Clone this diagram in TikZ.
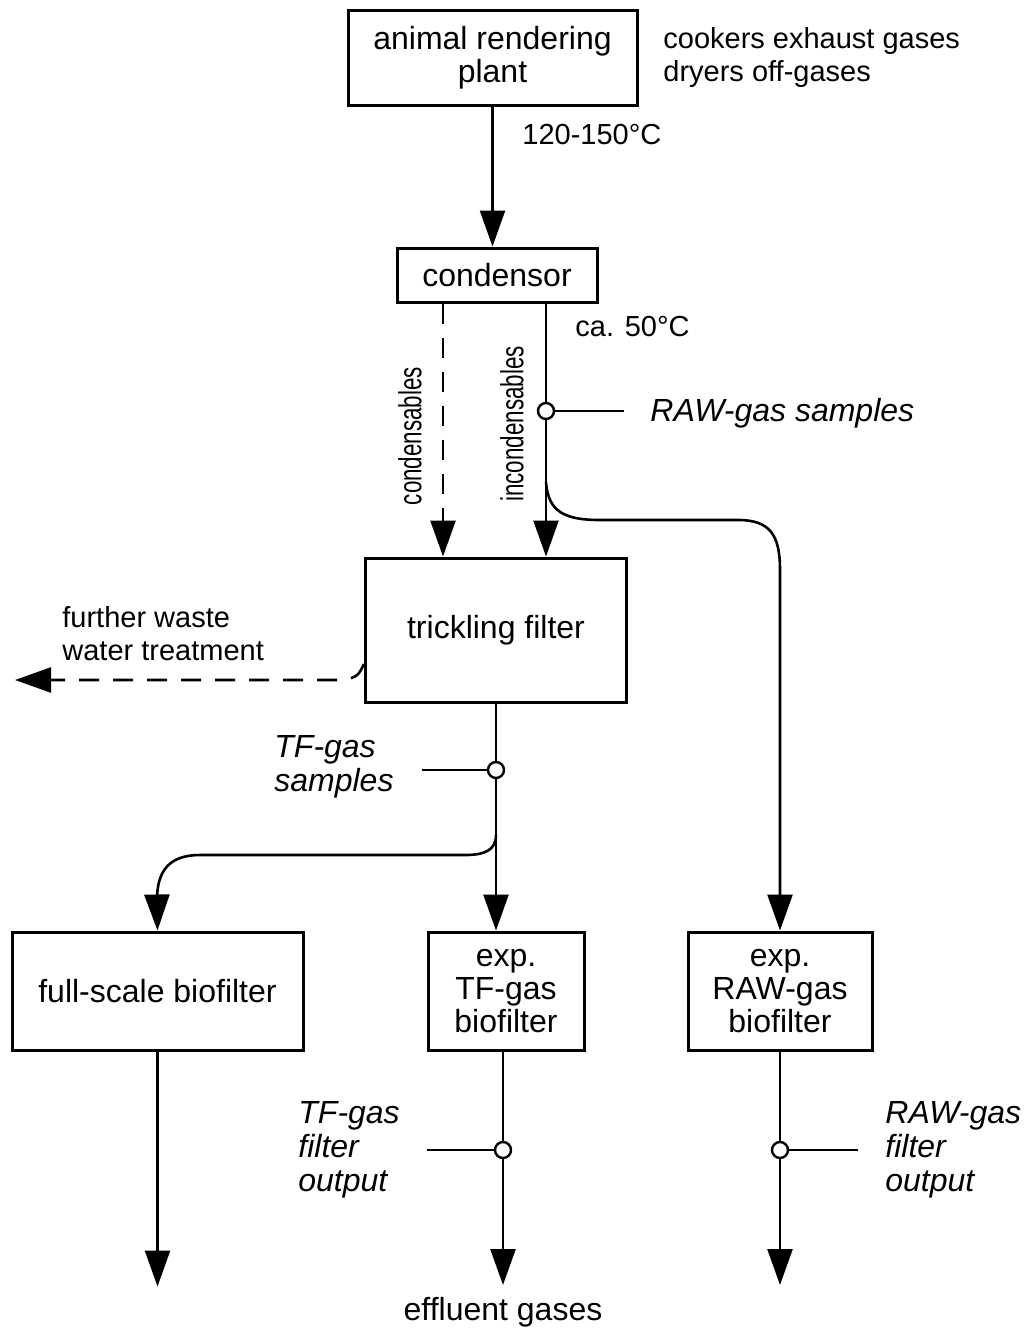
\documentclass[tikz,border=0pt]{standalone}
\usepackage{fontspec}
\setmainfont{Liberation Sans}
\newfontfamily\narrowfont[FakeStretch=0.7]{Liberation Sans}
\usetikzlibrary{arrows.meta, positioning}
\tikzset{
  box/.style={draw, line width=1.5pt, align=center, inner sep=2pt,
              font=\fontsize{16}{16.5}\selectfont},
  flow/.style={-{Triangle[length=18pt, width=12.5pt]}, line width=1.3pt},
  dflow/.style={flow, dash pattern=on 10pt off 7pt},
  tap/.style={draw, circle, line width=1.2pt, fill=white, inner sep=0pt, minimum size=8pt},
  lbl/.style={align=left, inner sep=0pt, font=\fontsize{14.5}{16.5}\selectfont},
  vlbl/.style={inner sep=0pt, rotate=90, font=\narrowfont\fontsize{16}{17}\selectfont},
  smp/.style={lbl, font=\fontsize{16}{17}\selectfont\itshape},
}

\begin{document}
\begin{tikzpicture}[x=0.5pt, y=-0.5pt]
\useasboundingbox (0,0) rectangle (1024,1328);

% process boxes
\node[box, minimum width=144.5pt, minimum height=47.5pt] (plant) at (492.5,57.5) {animal rendering\\plant};
\node[box, minimum width=100pt, minimum height=27pt] (cond) at (497,275) {condensor};
\node[box, minimum width=130.5pt, minimum height=72pt] (trick) at (496,630) {trickling filter};
\node[box, minimum width=145.5pt, minimum height=59pt] (fsbf) at (157.5,991) {full-scale biofilter};
\node[box, minimum width=78pt, minimum height=59pt] (tfbf) at (506,991) {exp.\\TF-gas\\biofilter};
\node[box, minimum width=92pt, minimum height=59pt] (rawbf) at (780,991) {exp.\\RAW-gas\\biofilter};

% labels
\node[lbl, anchor=west] (gases) at (663,57) {cookers exhaust gases\\dryers off-gases};
\node[lbl, anchor=west] (hot) at (522,135) {120-150°C};
\node[lbl, anchor=west] (warm) at (575,327) {ca. 50°C};
\node[vlbl] (cnd) at (410,436) {condensables};
\node[vlbl] (incnd) at (512,424) {incondensables};
\node[lbl, anchor=west] (wwt) at (62,634) {further waste\\water treatment};
\node[box, draw=none, inner sep=0pt] (eff) at (503,1312) {effluent gases};
\node[smp, anchor=west] (rawlbl) at (650,413) {RAW-gas samples};
\node[smp, anchor=west] (tflbl) at (274,767) {TF-gas\\samples};
\node[smp, anchor=west] (tfout) at (298,1150) {TF-gas\\filter\\output};
\node[smp, anchor=west] (rawout) at (885,1150) {RAW-gas\\filter\\output};

% sampling points
\node[tap] (rawsmp) at (546,411) {};
\node[tap] (tfsmp) at (496,770) {};
\node[tap] (tfosmp) at (503,1150) {};
\node[tap] (rawosmp) at (780,1150) {};
\coordinate (rawend) at (624,411);
\coordinate (tfend) at (422,770);
\coordinate (tfoend) at (427,1150);
\coordinate (rawoend) at (858,1150);
\coordinate (rawbr) at (546,482);
\coordinate (tfbr) at (496,835);
\coordinate (wwtend) at (15,680);

% main flow
\draw[flow] (plant.south) -- (plant.south |- cond.north);
\draw[dflow] ([xshift=-27pt]cond.south) -- ([xshift=-27pt]cond.south |- trick.north);
\draw[line width=1.3pt] ([xshift=24.5pt]cond.south) -- (rawsmp);
\draw[flow] (rawsmp) -- (rawsmp |- trick.north);
\draw[flow] (rawbr) .. controls (548,512) and (565,520) .. (600,520) -- (738,520)
  .. controls (770,520) and (780,535) .. (780,570) -- (rawbf.north);
\draw[dflow] ([yshift=-17pt]trick.west) .. controls (358,676) .. (345,680) -- (wwtend);
\draw[line width=1.3pt] (trick.south) -- (tfsmp);
\draw[flow] (tfsmp) -- (tfsmp |- tfbf.north);
\draw[flow] (tfbr) .. controls (496,850) and (485,855) .. (465,855) -- (200,855)
  .. controls (170,855) and (157,870) .. (157,900) -- (fsbf.north);

% outlets
\draw[flow] (fsbf.south) -- ++(0,-117.5pt);
\draw[line width=1.3pt] (tfosmp |- tfbf.south) -- (tfosmp);
\draw[flow] (tfosmp) -- ++(0,-67.5pt);
\draw[line width=1.3pt] (rawbf.south) -- (rawosmp);
\draw[flow] (rawosmp) -- ++(0,-67.5pt);

% sample lines
\draw[line width=1.3pt] (rawsmp) -- (rawend);
\draw[line width=1.3pt] (tfend) -- (tfsmp);
\draw[line width=1.3pt] (tfoend) -- (tfosmp);
\draw[line width=1.3pt] (rawosmp) -- (rawoend);

\end{tikzpicture}
\end{document}
